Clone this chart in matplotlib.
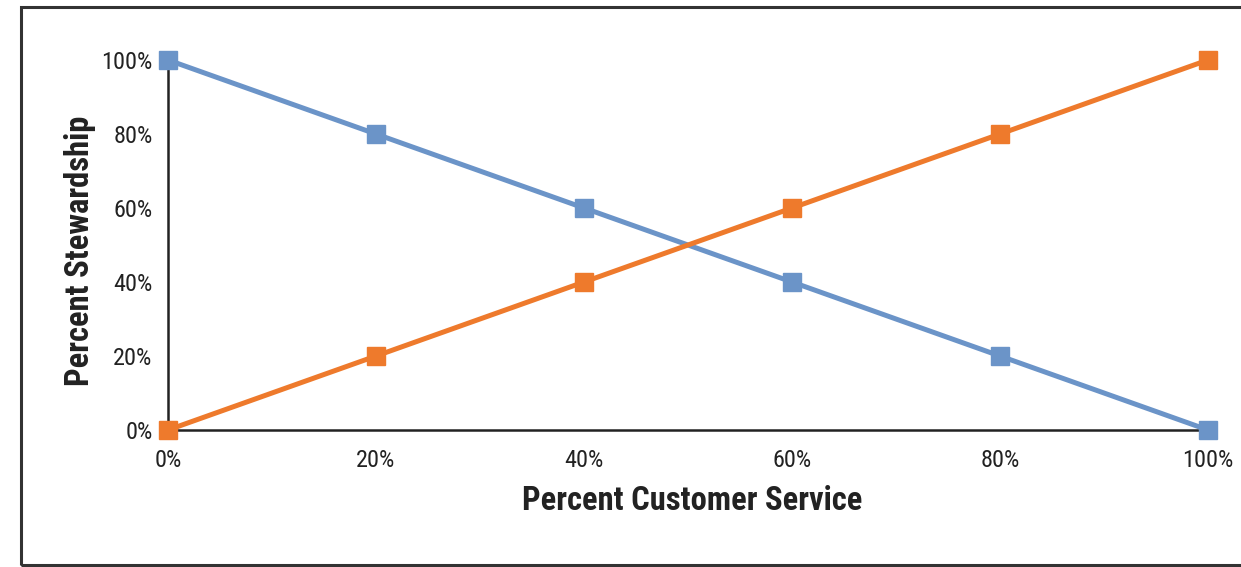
import matplotlib
matplotlib.use("Agg")
import matplotlib.pyplot as plt
from matplotlib.patches import Rectangle

# share of customer service vs. stewardship, in percent
customer_service = [0, 20, 40, 60, 80, 100]
stewardship_blue = [100, 80, 60, 40, 20, 0]
stewardship_orange = [0, 20, 40, 60, 80, 100]
tick_labels = ["0%", "20%", "40%", "60%", "80%", "100%"]

plt.rcParams['font.family'] = ['Roboto Condensed', 'IBM Plex Sans Condensed', 'DejaVu Sans']

fig = plt.figure(figsize=(12.41, 5.67), dpi=100)
ax = fig.add_axes([168 / 1241, 1 - 430 / 567, (1208 - 168) / 1241, (430 - 60) / 567])

ax.plot(customer_service, stewardship_blue, color="#6b94c8", lw=3.6,
        marker="s", ms=13, clip_on=False, zorder=3)
ax.plot(customer_service, stewardship_orange, color="#ee7a2c", lw=3.6,
        marker="s", ms=13, clip_on=False, zorder=4)

ax.set_xlim(0, 100)
ax.set_ylim(0, 100)
ax.set_xticks(customer_service)
ax.set_xticklabels(tick_labels)
ax.set_yticks(customer_service)
ax.set_yticklabels(tick_labels)
ax.tick_params(length=0, labelsize=17.5, colors="#222222")
ax.tick_params(axis="x", pad=14)
ax.tick_params(axis="y", pad=11)

for side in ["top", "right"]:
    ax.spines[side].set_visible(False)
for side in ["left", "bottom"]:
    ax.spines[side].set_linewidth(1.8)
    ax.spines[side].set_color("#222222")

fig.text(692 / 1241, 1 - 501 / 567, "Percent Customer Service", ha="center", va="center",
         fontsize=23.5, fontweight="bold", color="#222222")
fig.text(80 / 1241, 1 - 251 / 567, "Percent Stewardship", ha="center", va="center",
         rotation=90, fontsize=23.5, fontweight="bold", color="#222222")

# outer frame (open on the right)
fig.patches.append(Rectangle((21 / 1241, 1 - 565 / 567), 1.1, (565 - 7) / 567,
                             transform=fig.transFigure, fill=False,
                             edgecolor="#333333", lw=2.2, zorder=0))

fig.savefig("out.png", dpi=100)
